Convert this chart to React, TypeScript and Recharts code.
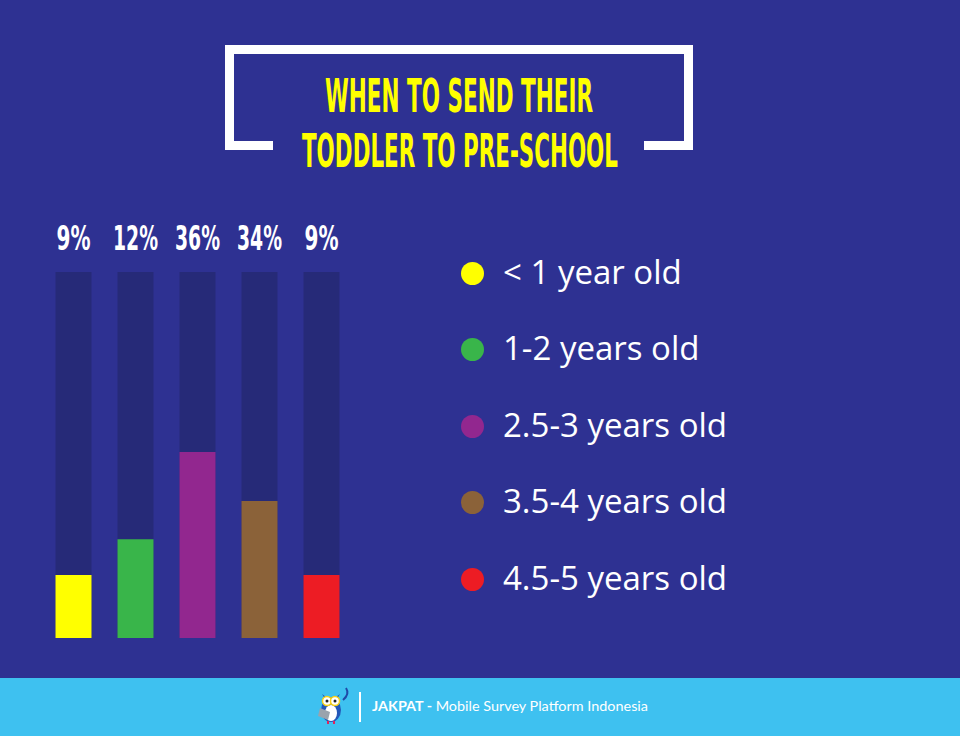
import React from "react";
import { Bar, BarChart, Cell, XAxis, YAxis } from "recharts";

const ageGroups = ["< 1 year old", "1-2 years old", "2.5-3 years old", "3.5-4 years old", "4.5-5 years old"];
const shares = [9, 12, 36, 34, 9];
const fillLevels = [17.2, 27, 50.8, 37.4, 17.2];
const barColors = ["#ffff00", "#39b54a", "#92278f", "#8b6239", "#ed1c24"];
const titleLines = ["WHEN TO SEND THEIR", "TODDLER TO PRE-SCHOOL"];

const data = ageGroups.map((age, i) => ({ age, share: shares[i], level: fillLevels[i] }));

const BG = "#2e3192";
const TRACK = "#262a78";
const condensed = "'Liberation Sans Narrow', 'DejaVu Sans Condensed', 'Roboto Condensed', sans-serif";

function ShareTick(props: any) {
  const { x, y, index } = props;
  const label = `${shares[index]}%`;
  return (
    <text
      x={x}
      y={y}
      textAnchor="middle"
      fill="#ffffff"
      fontFamily={condensed}
      fontWeight="bold"
      fontSize={34}
      textLength={label.length > 2 ? 45 : 34}
      lengthAdjust="spacingAndGlyphs"
    >
      {label}
    </text>
  );
}

function AgeLegend() {
  return (
    <div style={{ fontFamily: "'Open Sans', sans-serif", color: "#fff", fontSize: 33 }}>
      {ageGroups.map((age, i) => (
        <div key={age} style={{ display: "flex", alignItems: "center", height: 76.5 }}>
          <span
            style={{
              width: 23,
              height: 23,
              borderRadius: "50%",
              background: barColors[i],
              display: "inline-block",
              marginRight: 19,
              flexShrink: 0
            }}
          />
          <span style={{ lineHeight: 1, position: "relative", top: -2 }}>{age}</span>
        </div>
      ))}
    </div>
  );
}

function Owl() {
  return (
    <g>
      <path d="M343 700 Q350 694 346 688" stroke="#1f4aa8" strokeWidth={2} fill="none" />
      <ellipse cx={331} cy={710} rx={10} ry={12} fill="#2357b8" />
      <path d="M322 694 L325 699 L337 699 L340 694 L336 697 L326 697 Z" fill="#2357b8" />
      <ellipse cx={331} cy={713} rx={6} ry={8} fill="#ffffff" />
      <circle cx={327} cy={701} r={4.5} fill="#ffffff" stroke="#f7d117" strokeWidth={1.5} />
      <circle cx={335} cy={701} r={4.5} fill="#ffffff" stroke="#f7d117" strokeWidth={1.5} />
      <circle cx={327} cy={701} r={1.5} fill="#222" />
      <circle cx={335} cy={701} r={1.5} fill="#222" />
      <path d="M320 708 L330 712 L328 720 L318 716 Z" fill="#9aa3ad" />
      <rect x={327} y={721} width={2} height={3} fill="#e0245e" />
      <rect x={333} y={721} width={2} height={3} fill="#e0245e" />
    </g>
  );
}

export default function App() {
  return (
    <div style={{ position: "fixed", left: 0, top: 0, width: 960, height: 736, background: BG, overflow: "hidden" }}>
      <svg width={960} height={736} style={{ position: "absolute", left: 0, top: 0 }}>
        <path
          d="M273 145.5 H229.5 V49.5 H688.5 V145.5 H644"
          stroke="#ffffff"
          strokeWidth={9}
          fill="none"
          strokeLinejoin="miter"
        />
        <text
          x={459}
          y={112}
          textAnchor="middle"
          fill="#ffff00"
          fontFamily={condensed}
          fontWeight="bold"
          fontSize={46}
          textLength={268}
          lengthAdjust="spacingAndGlyphs"
        >
          {titleLines[0]}
        </text>
        <text
          x={460}
          y={167}
          textAnchor="middle"
          fill="#ffff00"
          fontFamily={condensed}
          fontWeight="bold"
          fontSize={46}
          textLength={316}
          lengthAdjust="spacingAndGlyphs"
        >
          {titleLines[1]}
        </text>
        <rect x={0} y={678} width={960} height={58} fill="#3ec1f0" />
        <Owl />
        <rect x={359} y={692} width={2} height={30} fill="#ffffff" />
        <text x={372} y={711} fill="#ffffff" fontFamily="Lato, sans-serif" fontSize={13} textLength={276} lengthAdjust="spacingAndGlyphs">
          <tspan fontWeight="bold">JAKPAT - </tspan>
          <tspan>Mobile Survey Platform Indonesia</tspan>
        </text>
      </svg>
      <div style={{ position: "absolute", left: 0, top: 0 }}>
        <BarChart
          width={360}
          height={640}
          data={data}
          margin={{ top: 232, right: 7.5, bottom: 2, left: 42.5 }}
          barSize={36}
        >
          <XAxis
            dataKey="age"
            orientation="top"
            height={40}
            axisLine={false}
            tickLine={false}
            tickSize={0}
            tickMargin={22}
            interval={0}
            tick={<ShareTick />}
          />
          <YAxis hide domain={[0, 100]} />
          <Bar dataKey="level" background={{ fill: TRACK }} isAnimationActive={false}>
            {data.map((d, i) => (
              <Cell key={d.age} fill={barColors[i]} />
            ))}
          </Bar>
        </BarChart>
      </div>
      <div style={{ position: "absolute", left: 461, top: 234.75, width: 420 }}>
        <AgeLegend />
      </div>
    </div>
  );
}
